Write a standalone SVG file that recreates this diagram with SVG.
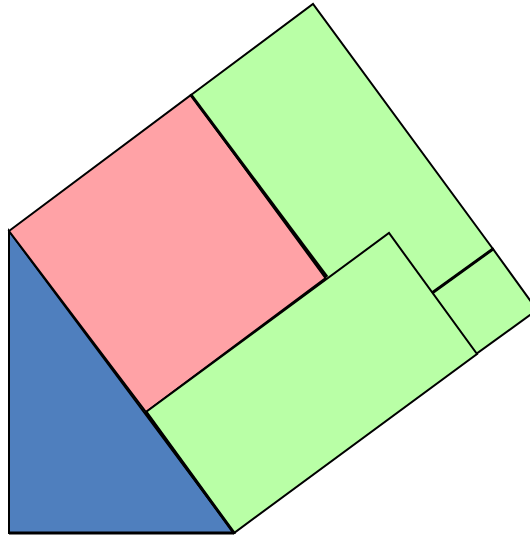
<svg xmlns="http://www.w3.org/2000/svg" width="530" height="536" viewBox="0 0 530 536">
<style>
.s{stroke:#000;stroke-width:2;stroke-linejoin:miter}
.blue{fill:#4f7fbe}
.pink{fill:#ffa2a6}
.green{fill:#b9ffa6}
.e{stroke:#000;stroke-width:3;fill:none}
</style>
<rect width="530" height="536" fill="#fff"/>
<g id="triangle"><polygon class="s blue" points="9,231 9,533 234,533"/></g>
<g id="square-pink"><polygon class="s pink" points="9,231 191,95 327,277 146,412"/></g>
<g id="rect-top"><polygon class="s green" points="191,95 313,4 493,249 371,340"/></g>
<g id="square-small"><polygon class="s green" points="432,293 493,249 537,310 476,354"/></g>
<g id="rect-bottom"><polygon class="s green" points="146,412 389,233 477,354 234,533"/></g>
<g id="connectors">
<line class="e" x1="191" y1="95" x2="327" y2="277"/>
<line class="e" x1="432" y1="293" x2="493" y2="249"/>
<line class="e" x1="146" y1="412" x2="234" y2="533"/>
<line class="e" x1="9" y1="533" x2="234" y2="533"/>
</g>
</svg>
